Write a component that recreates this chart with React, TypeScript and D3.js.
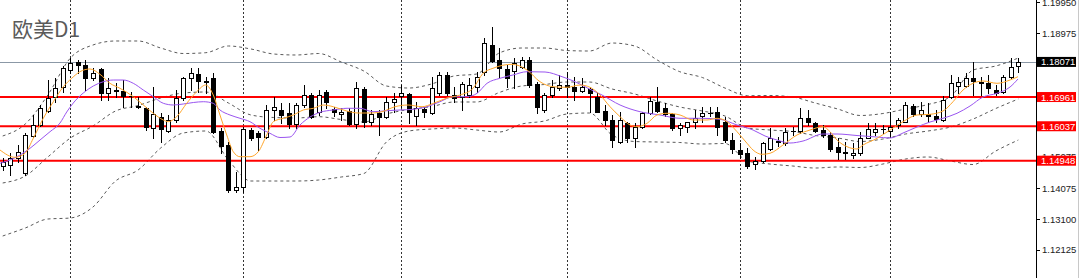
import React from 'react';
import * as d3 from 'd3';

const title = '欧美D1';

const opens = [1.1478,1.1481,1.1502,1.1455,1.1574,1.1608,1.1652,1.1697,1.1729,1.1782,1.1808,1.1797,1.1757,1.1784,1.1708,1.1718,1.1715,1.1699,1.1667,1.1662,1.1597,1.1634,1.1589,1.1624,1.1692,1.1755,1.1768,1.1748,1.1757,1.1589,1.1544,1.1401,1.1413,1.1592,1.1582,1.1571,1.1655,1.1655,1.1645,1.1610,1.1671,1.1703,1.1648,1.1711,1.1658,1.1642,1.1652,1.1610,1.1721,1.1618,1.1645,1.1634,1.1681,1.1700,1.1705,1.1637,1.1658,1.1645,1.1708,1.1766,1.1703,1.1697,1.1703,1.1729,1.1776,1.1861,1.1813,1.1785,1.1778,1.1792,1.1813,1.1736,1.1655,1.1703,1.1724,1.1734,1.1727,1.1715,1.1721,1.1697,1.1652,1.1624,1.1553,1.1613,1.1567,1.1602,1.1645,1.1681,1.1662,1.1642,1.1597,1.1602,1.1616,1.1637,1.1645,1.1648,1.1618,1.1560,1.1529,1.1518,1.1483,1.1494,1.1532,1.1557,1.1550,1.1588,1.1589,1.1631,1.1613,1.1592,1.1576,1.1539,1.1523,1.1513,1.1518,1.1567,1.1586,1.1594,1.1589,1.1608,1.1618,1.1669,1.1642,1.1642,1.1637,1.1624,1.1697,1.1732,1.1732,1.1755,1.1745,1.1739,1.1718,1.1713,1.1760,1.1795];
const highs = [1.1503,1.1519,1.1544,1.1582,1.1639,1.1671,1.1750,1.1756,1.1794,1.1820,1.1813,1.1813,1.1787,1.1787,1.1755,1.1740,1.1750,1.1713,1.1697,1.1666,1.1729,1.1645,1.1639,1.1718,1.1760,1.1787,1.1789,1.1760,1.1771,1.1597,1.1555,1.1460,1.1601,1.1597,1.1589,1.1671,1.1697,1.1676,1.1676,1.1676,1.1734,1.1708,1.1718,1.1718,1.1666,1.1660,1.1661,1.1745,1.1729,1.1655,1.1655,1.1697,1.1708,1.1734,1.1708,1.1681,1.1666,1.1760,1.1776,1.1776,1.1729,1.1745,1.1755,1.1776,1.1882,1.1919,1.1850,1.1797,1.1819,1.1824,1.1824,1.1745,1.1708,1.1750,1.1766,1.1776,1.1760,1.1755,1.1729,1.1708,1.1671,1.1639,1.1650,1.1618,1.1613,1.1650,1.1697,1.1729,1.1676,1.1645,1.1613,1.1618,1.1655,1.1666,1.1666,1.1666,1.1634,1.1582,1.1550,1.1534,1.1507,1.1555,1.1597,1.1571,1.1597,1.1602,1.1660,1.1655,1.1618,1.1608,1.1586,1.1566,1.1555,1.1550,1.1585,1.1613,1.1613,1.1608,1.1648,1.1629,1.1681,1.1673,1.1681,1.1676,1.1655,1.1700,1.1766,1.1760,1.1771,1.1808,1.1760,1.1766,1.1734,1.1766,1.1819,1.1820];
const lows = [1.1465,1.1450,1.1492,1.1450,1.1571,1.1606,1.1650,1.1681,1.1712,1.1771,1.1772,1.1718,1.1750,1.1687,1.1687,1.1696,1.1666,1.1666,1.1660,1.1592,1.1566,1.1555,1.1586,1.1618,1.1687,1.1718,1.1713,1.1708,1.1581,1.1518,1.1397,1.1397,1.1397,1.1560,1.1529,1.1566,1.1624,1.1613,1.1597,1.1597,1.1666,1.1629,1.1639,1.1660,1.1637,1.1624,1.1608,1.1597,1.1602,1.1608,1.1576,1.1629,1.1650,1.1666,1.1613,1.1608,1.1634,1.1642,1.1703,1.1703,1.1681,1.1655,1.1697,1.1713,1.1766,1.1808,1.1760,1.1729,1.1726,1.1787,1.1729,1.1645,1.1650,1.1697,1.1718,1.1697,1.1687,1.1713,1.1650,1.1648,1.1608,1.1539,1.1550,1.1555,1.1539,1.1597,1.1642,1.1648,1.1637,1.1592,1.1576,1.1586,1.1597,1.1618,1.1636,1.1576,1.1555,1.1518,1.1502,1.1473,1.1469,1.1492,1.1529,1.1542,1.1544,1.1576,1.1581,1.1608,1.1586,1.1571,1.1525,1.1500,1.1500,1.1502,1.1513,1.1566,1.1576,1.1581,1.1571,1.1597,1.1616,1.1637,1.1637,1.1616,1.1618,1.1621,1.1694,1.1708,1.1729,1.1703,1.1703,1.1708,1.1703,1.1708,1.1755,1.1776];
const closes = [1.1491,1.1502,1.1523,1.1576,1.1608,1.1660,1.1694,1.1724,1.1787,1.1803,1.1797,1.1755,1.1773,1.1708,1.1724,1.1715,1.1700,1.1698,1.1666,1.1602,1.1642,1.1595,1.1624,1.1694,1.1755,1.1771,1.1747,1.1743,1.1586,1.1542,1.1402,1.1413,1.1595,1.1566,1.1570,1.1655,1.1666,1.1639,1.1610,1.1671,1.1703,1.1634,1.1703,1.1679,1.1648,1.1650,1.1610,1.1724,1.1618,1.1642,1.1634,1.1681,1.1690,1.1708,1.1648,1.1660,1.1648,1.1724,1.1766,1.1708,1.1694,1.1736,1.1734,1.1760,1.1866,1.1810,1.1787,1.1755,1.1803,1.1813,1.1734,1.1666,1.1703,1.1729,1.1734,1.1729,1.1715,1.1729,1.1708,1.1650,1.1624,1.1560,1.1624,1.1567,1.1602,1.1645,1.1684,1.1652,1.1642,1.1597,1.1608,1.1616,1.1629,1.1645,1.1646,1.1602,1.1560,1.1532,1.1515,1.1479,1.1494,1.1550,1.1566,1.1553,1.1585,1.1589,1.1631,1.1618,1.1589,1.1576,1.1532,1.1523,1.1518,1.1520,1.1566,1.1595,1.1595,1.1594,1.1602,1.1624,1.1671,1.1642,1.1655,1.1637,1.1627,1.1687,1.1739,1.1743,1.1757,1.1747,1.1739,1.1724,1.1708,1.1760,1.1792,1.18071];

// month separators (candle index)
const monthStarts = [9, 32, 53, 75, 98, 118];

// Bollinger bands sampled every 3 candles
const bandStep = 3;
const bbUpper = [1.15729,1.16108,1.17025,1.18195,1.18606,1.18733,1.18733,1.18511,1.18337,1.18363,1.18575,1.18480,1.18322,1.18290,1.18337,1.18069,1.17784,1.17310,1.17246,1.17373,1.17626,1.17689,1.18353,1.18511,1.18511,1.18432,1.18416,1.18669,1.18575,1.18132,1.17762,1.17578,1.17246,1.17003,1.17009,1.16962,1.16772,1.16582,1.16377,1.16440,1.16582,1.16725,1.16978,1.17816,1.17942,1.18195];
const bbMiddle = [1.14243,1.14464,1.15065,1.15665,1.16045,1.16519,1.16693,1.16930,1.17088,1.17120,1.16772,1.16393,1.16314,1.16298,1.16339,1.16250,1.16171,1.16424,1.16567,1.16661,1.16804,1.16804,1.17104,1.17310,1.17357,1.17436,1.17436,1.17215,1.17057,1.16835,1.16646,1.16519,1.16361,1.15982,1.15918,1.15871,1.15745,1.15665,1.15555,1.15634,1.15792,1.15887,1.16013,1.16266,1.16598,1.16899];
const bbLower = [1.12567,1.12820,1.13104,1.13136,1.13484,1.14306,1.14654,1.15349,1.15824,1.15887,1.14970,1.14306,1.14306,1.14306,1.14337,1.14432,1.14543,1.15539,1.15887,1.15950,1.15982,1.15918,1.15855,1.16108,1.16203,1.16424,1.16456,1.15760,1.15555,1.15539,1.15523,1.15476,1.15492,1.14938,1.14843,1.14780,1.14717,1.14749,1.14733,1.14843,1.15001,1.15065,1.14938,1.14827,1.15254,1.15602];

// moving averages: [candle index, price]
const maFast: [number, number][] = [[-0.36,1.15286],[1.63,1.15055],[2.96,1.15181],[4.07,1.15656],[5.4,1.16289],[6.73,1.16813],[8.06,1.17287],[9.17,1.17553],[10.27,1.17762],[11.6,1.17848],[12.93,1.1768],[14.26,1.17395],[15.59,1.17237],[17.36,1.16971],[18.69,1.16709],[20.02,1.16447],[21.35,1.16235],[22.01,1.16181],[23.13,1.1634],[24.46,1.16763],[25.79,1.1713],[26.98,1.17341],[27.99,1.17025],[28.88,1.16393],[29.78,1.1576],[30.65,1.15232],[31.54,1.15074],[32.87,1.15074],[33.98,1.15232],[35.09,1.1576],[35.97,1.16181],[37.3,1.16289],[38.63,1.16393],[39.96,1.16551],[41.29,1.16605],[42.62,1.16709],[43.95,1.16655],[45.73,1.16519],[47.23,1.16456],[49.09,1.16456],[50.42,1.16497],[52.15,1.16655],[53.88,1.16709],[55.74,1.16655],[57.2,1.16756],[59.06,1.1693],[60.79,1.17025],[62.52,1.17237],[63.85,1.17711],[65.17,1.1787],[67.7,1.17996],[69.69,1.17816],[71.42,1.17445],[73.15,1.17287],[75.01,1.17269],[76.74,1.17341],[78.07,1.17269],[79.4,1.17025],[80.73,1.16655],[82.06,1.16339],[83.39,1.16077],[84.32,1.16023],[85.65,1.1613],[86.97,1.16393],[88.3,1.16447],[90.03,1.16393],[91.76,1.16235],[93.62,1.16235],[94.95,1.16289],[96.28,1.16181],[97.61,1.15865],[98.94,1.15498],[99.74,1.15286],[100.93,1.1515],[101.99,1.15182],[103.72,1.15444],[105.58,1.1576],[107.31,1.15918],[109.04,1.16023],[109.97,1.15865],[110.9,1.15602],[112.23,1.15391],[113.56,1.15318],[114.36,1.15444],[116.22,1.15656],[117.95,1.15918],[119.67,1.16181],[121.53,1.16393],[123.26,1.16415],[124.99,1.16519],[126.32,1.16813],[127.65,1.17183],[128.98,1.17395],[130.31,1.17468],[132.17,1.17395],[133.9,1.17499],[134.96,1.17604]];
const maSlow: [number, number][] = [[-0.36,1.14866],[0.97,1.1497],[2.3,1.15128],[3.63,1.1534],[4.96,1.15602],[6.29,1.15865],[7.62,1.1614],[8.51,1.16488],[9.38,1.16772],[10.71,1.17088],[12.04,1.1731],[13.37,1.17445],[14.7,1.17499],[16.03,1.17499],[17.36,1.17395],[18.69,1.17183],[20.02,1.16971],[21.35,1.16763],[22.68,1.16709],[24.01,1.16741],[25.34,1.16788],[26.67,1.16813],[27.99,1.16763],[28.88,1.16551],[30.21,1.16393],[31.54,1.16289],[32.87,1.16181],[34.2,1.15972],[35.53,1.15814],[36.86,1.15681],[38.19,1.15697],[39.52,1.16077],[40.85,1.16329],[42.18,1.16478],[43.9,1.16551],[45.77,1.16605],[47.49,1.16605],[49.22,1.16497],[51.08,1.16529],[52.81,1.16551],[54.54,1.16573],[56.4,1.16655],[58.13,1.16813],[59.86,1.16971],[61.72,1.16971],[63.05,1.17079],[64.38,1.17395],[66.1,1.17553],[67.83,1.17658],[69.69,1.17762],[72.09,1.17752],[74.35,1.17604],[76.08,1.17445],[77.8,1.17237],[79.66,1.17025],[82.06,1.16709],[84.71,1.16497],[87.37,1.16393],[90.03,1.16289],[92.69,1.16289],[95.35,1.16257],[97.61,1.16077],[99.74,1.15918],[101.33,1.15729],[102.92,1.15602],[104.65,1.15507],[106.38,1.1557],[109.04,1.15792],[110.9,1.15792],[113.56,1.15744],[116.22,1.15697],[117.95,1.15665],[119.67,1.15823],[121.53,1.16013],[123.26,1.16171],[124.99,1.16289],[126.85,1.16447],[128.58,1.16677],[130.31,1.16962],[132.17,1.17079],[133.9,1.17278],[134.96,1.17531]];

// visible price-axis labels (others are covered by the level boxes in the reference)
const tickLabels = ['1.19950', '1.18975', '1.15075', '1.14075', '1.13100', '1.12125'];
const supportLevels = [1.16961, 1.16037, 1.14948];
const lastPrice = 1.18071;

export default function App() {
  const W = 1080;
  const H = 278;
  const axisX = 1036;
  const x = d3.scaleLinear().domain([-0.359, 137.35]).range([0, axisX]);
  const y = d3.scaleLinear().domain([1.11239, 1.20029]).range([H, 0]);

  const line = d3
    .line<[number, number]>()
    .x((d) => x(d[0]))
    .y((d) => y(d[1]))
    .curve(d3.curveMonotoneX);

  const band = (arr: number[]) => line(arr.map((v, k) => [k * bandStep, v] as [number, number])) || '';
  const fmt = (v: number) => v.toFixed(5);
  const px = (v: number) => Math.round(v) + 0.5;

  return (
    <svg
      width={W}
      height={H}
      style={{ position: 'absolute', left: 0, top: 0, display: 'block', background: '#fff' }}
      xmlns="http://www.w3.org/2000/svg"
    >
      <defs>
        <clipPath id="plot">
          <rect x={0} y={0} width={axisX} height={H} />
        </clipPath>
      </defs>
      <rect x={0} y={0} width={W} height={H} fill="#fff" />

      <g clipPath="url(#plot)">
        {monthStarts.map((m) => (
          <line key={m} x1={px(x(m))} x2={px(x(m))} y1={0} y2={H} stroke="#333" strokeWidth={1} strokeDasharray="2,2" />
        ))}

        <line x1={0} x2={axisX} y1={px(y(lastPrice))} y2={px(y(lastPrice))} stroke="#8b98a6" strokeWidth={1} />

        {[bbUpper, bbMiddle, bbLower].map((b, k) => (
          <path key={k} d={band(b)} fill="none" stroke="#5a5a5a" strokeWidth={1} strokeDasharray="3,3" />
        ))}

        {supportLevels.map((s) => (
          <line key={s} x1={0} x2={axisX} y1={y(s)} y2={y(s)} stroke="#ff0000" strokeWidth={2} />
        ))}

        {opens.map((o, i) => {
          const c = closes[i];
          const cx = px(x(i));
          const top = px(y(Math.max(o, c)));
          const bot = px(y(Math.min(o, c)));
          const bull = c >= o;
          return (
            <g key={i}>
              <line x1={cx} x2={cx} y1={Math.round(y(highs[i]))} y2={Math.round(y(lows[i])) + 1} stroke="#000" strokeWidth={1} />
              {bot - top < 1 ? (
                <line x1={cx - 2.5} x2={cx + 2.5} y1={top} y2={top} stroke="#000" strokeWidth={1} />
              ) : (
                <rect x={cx - 2} y={top} width={4} height={bot - top} fill={bull ? '#fff' : '#000'} stroke="#000" strokeWidth={1} />
              )}
            </g>
          );
        })}

        <path d={line(maSlow) || ''} fill="none" stroke="#9a55f0" strokeWidth={1} />
        <path d={line(maFast) || ''} fill="none" stroke="#ffa62b" strokeWidth={1} />
      </g>

      <text x={12} y={37} fontFamily="'Noto Sans CJK SC', 'Noto Sans', sans-serif" fontSize={21} fill="#5a5a5a">
        {title}
      </text>

      <line x1={axisX + 0.5} x2={axisX + 0.5} y1={0} y2={H} stroke="#000" strokeWidth={1} />
      <line x1={W - 1.5} x2={W - 1.5} y1={0} y2={H} stroke="#c8c8c8" strokeWidth={1} />

      {tickLabels.map((t) => {
        const ty = y(parseFloat(t));
        return (
          <g key={t}>
            <line x1={axisX} x2={axisX + 4} y1={px(ty)} y2={px(ty)} stroke="#000" strokeWidth={1} />
            <text x={axisX + 6} y={ty + 3.5} fontFamily="'Liberation Sans', Arial, sans-serif" fontSize={9.5} fill="#222">
              {t}
            </text>
          </g>
        );
      })}

      {[lastPrice, ...supportLevels].map((s, k) => {
        const ty = y(s);
        return (
          <g key={s}>
            <rect x={axisX + 1} y={ty - 5} width={39} height={10} fill={k === 0 ? '#000' : '#ff0000'} />
            <text x={axisX + 5} y={ty + 3.5} fontFamily="'Liberation Sans', Arial, sans-serif" fontSize={9.5} fill="#fff">
              {fmt(s)}
            </text>
          </g>
        );
      })}
    </svg>
  );
}
